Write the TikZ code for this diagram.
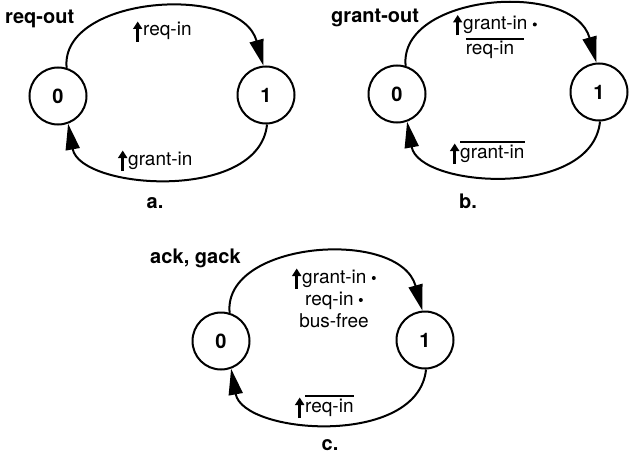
\documentclass[tikz,border=0pt]{standalone}
\usepackage{fontspec}
\setmainfont{TeX Gyre Heros}
\usetikzlibrary{arrows.meta}

% rising edge, "and" dot and negated signal
\newcommand{\edgeup}{\tikz[baseline=0pt]\draw[line width=2.6pt,-{Triangle[length=7.5pt,width=9pt]}] (0pt,-6pt) -- (0pt,14.5pt);\kern1pt}
\newcommand{\andop}{\tikz[baseline=-5pt]\fill (0pt,0pt) circle (2pt);}
\newcommand{\negsig}[1]{\leavevmode\vbox{\hrule height 1.8pt\kern2pt\hbox{#1}}}

\begin{document}
\begin{tikzpicture}[x=1pt, y=-1pt,
        state/.style={circle, draw, line width=2pt, minimum size=57pt, inner sep=0pt, font=\fontsize{20}{22}\selectfont\bfseries},
        title/.style={font=\fontsize{20}{22}\selectfont\bfseries, inner sep=0pt},
        cond/.style={font=\fontsize{19}{22}\selectfont, inner sep=0pt, align=center},
        trans/.style={line width=2pt, -{Triangle[length=26pt,width=14pt]}}
    ]
    \useasboundingbox (0,0) rectangle (629,460);

    % a. request
    \node (a0) [state] at (58,96) {0};
    \node (a1) [state] at (266,95) {1};
    \node (aname) [title, anchor=base west] at (5,24) {req-out};
    \node (aup) [cond, anchor=base west] at (133,36) {\edgeup req-in};
    \node (adown) [cond, anchor=base west] at (118,165) {\edgeup grant-in};
    \node (acap) [title, anchor=base] at (155,208) {a.};
    \draw [trans] (a0.73) .. controls +(-7,-72) and +(-23,-83) .. (a1.95);
    \draw [trans] (a1.-88) .. controls +(-8,78) and +(12,66) .. (a0.-70);

    % b. grant (base of a multi-line node is its last line)
    \node (b0) [state] at (397,94) {0};
    \node (b1) [state] at (599,92) {1};
    \node (bname) [title, anchor=base west] at (331,23) {grant-out};
    \node (bup) [cond, anchor=base] at (495,55) {\edgeup grant-in \andop\\ \negsig{req-in\kern10pt}};
    \node (bdown) [cond, anchor=base west] at (450,158) {\edgeup\negsig{grant-in}};
    \node (bcap) [title, anchor=base] at (468,208) {b.};
    \draw [trans] (b0.73) .. controls +(-7,-72) and +(-23,-83) .. (b1.95);
    \draw [trans] (b1.-88) .. controls +(-8,78) and +(12,66) .. (b0.-70);

    % c. acknowledge
    \node (c0) [state] at (221,341) {0};
    \node (c1) [state] at (425,340) {1};
    \node (cname) [title, anchor=base west] at (150,263) {ack, gack};
    \node (cup) [cond, anchor=base] at (334,327) {\edgeup grant-in \andop\\ req-in \andop\\ bus-free};
    \node (cdown) [cond, anchor=base west] at (295,412) {\edgeup\negsig{req-in}};
    \node (ccap) [title, anchor=base] at (330,450) {c.};
    \draw [trans] (c0.73) .. controls +(-7,-72) and +(-23,-83) .. (c1.95);
    \draw [trans] (c1.-88) .. controls +(-8,78) and +(12,66) .. (c0.-70);

\end{tikzpicture}
\end{document}
